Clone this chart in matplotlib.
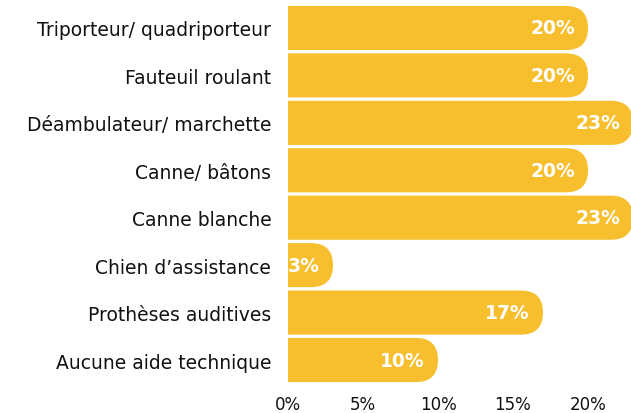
import matplotlib
matplotlib.use("Agg")
import matplotlib.pyplot as plt
from matplotlib.patches import FancyBboxPatch

categories = [
    "Triporteur/ quadriporteur",
    "Fauteuil roulant",
    "Déambulateur/ marchette",
    "Canne/ bâtons",
    "Canne blanche",
    "Chien d’assistance",
    "Prothèses auditives",
    "Aucune aide technique",
]
values = [20, 20, 23, 20, 23, 3, 17, 10]
xticks = [0, 5, 10, 15, 20]
xticklabels = ["0%", "5%", "10%", "15%", "20%"]

bar_color = "#F7BF2E"
text_color = "#111111"
plt.rcParams["font.family"] = ["DejaVu Sans"]

fig = plt.figure(figsize=(6.31, 4.14), dpi=100)
ax = fig.add_axes([288 / 631, 29 / 414, 343 / 631, 380 / 414])

ypos = list(range(len(categories)))
h = 0.93
ax.set_xlim(0, 20 * 343 / 300)
ax.set_ylim(7.506, -0.506)

# aspect between y and x data units on screen, for round right ends
fig.canvas.draw()
bb = ax.get_window_extent()
xu = (ax.get_xlim()[1] - ax.get_xlim()[0]) / bb.width
yu = abs(ax.get_ylim()[0] - ax.get_ylim()[1]) / bb.height
aspect = yu / xu
r = (h / 2) / aspect * 0.999

for y, v, lab in zip(ypos, values, categories):
    patch = FancyBboxPatch((-3, y - h / 2), v + 3, h,
                           boxstyle=f"round,pad=0,rounding_size={r}",
                           mutation_aspect=aspect, facecolor=bar_color,
                           edgecolor="none")
    ax.add_patch(patch)
    ax.annotate(f"{v}%", (v, y), xytext=(-13, 0), textcoords="offset pixels",
                ha="right", va="center", color="white", fontsize=13.5,
                fontweight="bold", annotation_clip=False)

ax.set_yticks(ypos)
ax.set_yticklabels(categories, fontsize=13.5, color=text_color)
ax.set_xticks(xticks)
ax.set_xticklabels(xticklabels, fontsize=12, color=text_color)
ax.tick_params(length=0)
ax.tick_params(axis="y", pad=12)
ax.tick_params(axis="x", pad=8)
for s in ax.spines.values():
    s.set_visible(False)

fig.savefig("out.png", dpi=100)
